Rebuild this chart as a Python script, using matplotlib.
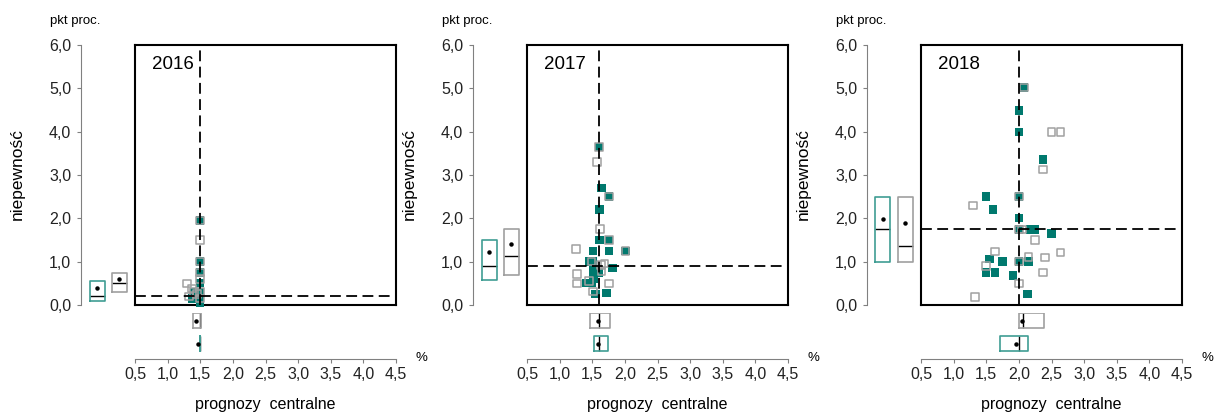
import matplotlib
matplotlib.use('Agg')
import matplotlib.pyplot as plt
import numpy as np

plt.rcParams['font.family'] = ['Liberation Sans', 'DejaVu Sans']

# scatter data: central forecast (x) vs uncertainty (y)
years = ['2016', '2017', '2018']

teal_x_2016 = [1.5, 1.5, 1.5, 1.5, 1.5, 1.5, 1.5, 1.5, 1.4, 1.38, 1.45]
teal_y_2016 = [1.95, 1.0, 0.75, 0.5, 0.3, 0.2, 0.1, 0.05, 0.3, 0.15, 0.2]
gray_x_2016 = [1.5, 1.5, 1.5, 1.5, 1.5, 1.3, 1.37, 1.33, 1.4, 1.45, 1.5, 1.5]
gray_y_2016 = [1.95, 1.5, 1.0, 0.75, 0.6, 0.5, 0.38, 0.2, 0.3, 0.25, 0.3, 0.15]

teal_x_2017 = [1.6, 1.64, 1.76, 1.61, 1.61, 1.76, 1.51, 1.76, 2.01, 1.51, 1.46,
               1.81, 1.52, 1.52, 1.52, 1.41, 1.5, 1.6, 1.55, 1.72]
teal_y_2017 = [3.64, 2.7, 2.5, 2.2, 1.5, 1.5, 1.25, 1.25, 1.25, 1.0, 1.0,
               0.85, 0.8, 0.7, 0.6, 0.5, 0.5, 0.75, 0.25, 0.27]
gray_x_2017 = [1.6, 1.57, 1.76, 1.62, 1.76, 1.25, 2.01, 1.49, 1.69, 1.63, 1.64,
               1.27, 1.27, 1.45, 1.76, 1.51]
gray_y_2017 = [3.64, 3.3, 2.5, 1.75, 1.5, 1.29, 1.25, 1.0, 0.96, 0.92, 0.77,
               0.71, 0.5, 0.56, 0.5, 0.31]

teal_x_2018 = [2.08, 2.0, 2.0, 2.37, 1.5, 2.0, 1.6, 2.0, 2.0, 2.18, 2.25, 2.5,
               1.55, 1.75, 2.0, 2.15, 1.5, 1.63, 1.91, 2.13]
teal_y_2018 = [5.02, 4.49, 3.99, 3.36, 2.5, 2.5, 2.2, 2.0, 1.74, 1.74, 1.74, 1.65,
               1.06, 1.0, 1.0, 1.0, 0.75, 0.75, 0.68, 0.25]
gray_x_2018 = [2.08, 2.5, 2.64, 2.37, 2.0, 1.3, 2.0, 2.05, 2.25, 1.63, 2.15, 2.4,
               2.64, 1.5, 2.0, 2.37, 2.0, 1.33]
gray_y_2018 = [5.02, 3.99, 3.99, 3.13, 2.5, 2.3, 1.74, 1.74, 1.5, 1.23, 1.11, 1.1,
               1.21, 0.9, 1.0, 0.75, 0.5, 0.18]

teal_x = [teal_x_2016, teal_x_2017, teal_x_2018]
teal_y = [teal_y_2016, teal_y_2017, teal_y_2018]
gray_x = [gray_x_2016, gray_x_2017, gray_x_2018]
gray_y = [gray_y_2016, gray_y_2017, gray_y_2018]

# box summaries: q1, median, q3, mean
teal_ybox = [[0.1, 0.2, 0.55, 0.4], [0.58, 0.9, 1.5, 1.22], [1.0, 1.75, 2.49, 1.98]]
gray_ybox = [[0.3, 0.5, 0.74, 0.6], [0.69, 1.12, 1.75, 1.4], [1.0, 1.36, 2.49, 1.9]]
teal_xbox = [[1.5, 1.5, 1.5, 1.47], [1.53, 1.6, 1.74, 1.59], [1.71, 2.0, 2.14, 1.95]]
gray_xbox = [[1.39, 1.5, 1.51, 1.43], [1.46, 1.6, 1.77, 1.59], [2.0, 2.06, 2.38, 2.05]]

yticks = [0, 1, 2, 3, 4, 5, 6]
ytick_labels = ['0,0', '1,0', '2,0', '3,0', '4,0', '5,0', '6,0']
xticks = [0.5, 1.0, 1.5, 2.0, 2.5, 3.0, 3.5, 4.0, 4.5]
xtick_labels = ['0,5', '1,0', '1,5', '2,0', '2,5', '3,0', '3,5', '4,0', '4,5']

TEAL = '#00796e'
TEAL_BOX = '#3f9d93'
GRAY = '#a0a0a0'
AXGRAY = '#808080'

W, H = 1216, 412
fig = plt.figure(figsize=(W / 100, H / 100), dpi=100)


def rect(x0, y0, x1, y1):
    return [x0 / W, 1 - y1 / H, (x1 - x0) / W, (y1 - y0) / H]


def stat(s):
    return dict(q1=s[0], med=s[1], q3=s[2], mean=s[3], whislo=s[0], whishi=s[2], fliers=[])


def draw_box(ax, s, pos, color, orient):
    ax.bxp([stat(s)], positions=[pos], widths=15, orientation=orient,
           showcaps=False, showfliers=False, showmeans=True,
           boxprops=dict(color=color, linewidth=1.2, zorder=2),
           whiskerprops=dict(linewidth=0),
           medianprops=dict(color='black', linewidth=1, zorder=1.9),
           meanprops=dict(marker='o', markersize=2.2, markerfacecolor='black',
                          markeredgecolor='black'),
           manage_ticks=False)


lefts = [135, 527, 921]
for i, L in enumerate(lefts):
    # main scatter panel
    ax = fig.add_axes(rect(L, 44.5, L + 261, 305))
    ax.set_xlim(0.5, 4.5)
    ax.set_ylim(0, 6.01)
    ax.set_xticks([])
    ax.set_yticks([])
    for sp in ax.spines.values():
        sp.set_linewidth(1.5)
    ax.scatter(teal_x[i], teal_y[i], marker='s', s=36, color=TEAL,
               edgecolor='none', zorder=3, clip_on=False)
    ax.scatter(gray_x[i], gray_y[i], marker='s', s=30, facecolor='none',
               edgecolor=GRAY, linewidth=1.1, zorder=4, clip_on=False)
    ax.axvline(teal_xbox[i][1], color='black', lw=1.3, ls=(0, (6, 3)), zorder=5)
    ax.axhline(teal_ybox[i][1], color='black', lw=1.3, ls=(0, (6, 3)), zorder=5)
    ax.text(17 / 261, 1 - 20 / 260, years[i], transform=ax.transAxes,
            fontsize=13.5, va='center', ha='left')

    # left axis with uncertainty boxes
    axl = fig.add_axes(rect(L - 54, 45, L, 305))
    axl.set_xlim(0, 54)
    axl.set_ylim(0, 6)
    axl.patch.set_visible(False)
    for k in ['top', 'right', 'bottom']:
        axl.spines[k].set_visible(False)
    axl.spines['left'].set_color(AXGRAY)
    axl.set_xticks([])
    axl.set_yticks(yticks)
    axl.set_yticklabels(ytick_labels)
    axl.tick_params(axis='y', direction='out', length=3, color=AXGRAY,
                    labelsize=11.5, pad=4, labelcolor='#222222')
    draw_box(axl, teal_ybox[i], 16, TEAL_BOX, 'vertical')
    draw_box(axl, gray_ybox[i], 38, GRAY, 'vertical')
    axl.text(-31, 6.55, 'pkt proc.', fontsize=9.5, va='center', ha='left',
             transform=axl.transData)

    # bottom axis with central forecast boxes
    axb = fig.add_axes(rect(L, 313, L + 261, 359))
    axb.set_xlim(0.5, 4.5)
    axb.set_ylim(0, 46)
    axb.patch.set_visible(False)
    for k in ['top', 'right', 'left']:
        axb.spines[k].set_visible(False)
    axb.spines['bottom'].set_color(AXGRAY)
    axb.set_yticks([])
    axb.set_xticks(xticks)
    axb.set_xticklabels(xtick_labels)
    axb.tick_params(axis='x', direction='out', length=3, color=AXGRAY,
                    labelsize=11.5, pad=3, labelcolor='#222222')
    draw_box(axb, gray_xbox[i], 38.5, GRAY, 'horizontal')
    draw_box(axb, teal_xbox[i], 15.5, TEAL_BOX, 'horizontal')

    fig.text((L + 286) / W, 1 - 358 / H, '%', fontsize=9.5, ha='center', va='center')
    fig.text((L + 130) / W, 1 - 404 / H, 'prognozy  centralne', fontsize=11.5,
             ha='center', va='center')
    fig.text((L - 117.5) / W, 1 - 174 / H, 'niepewność', fontsize=12.5,
             rotation=90, ha='center', va='center')

fig.savefig('out.png', dpi=100)
